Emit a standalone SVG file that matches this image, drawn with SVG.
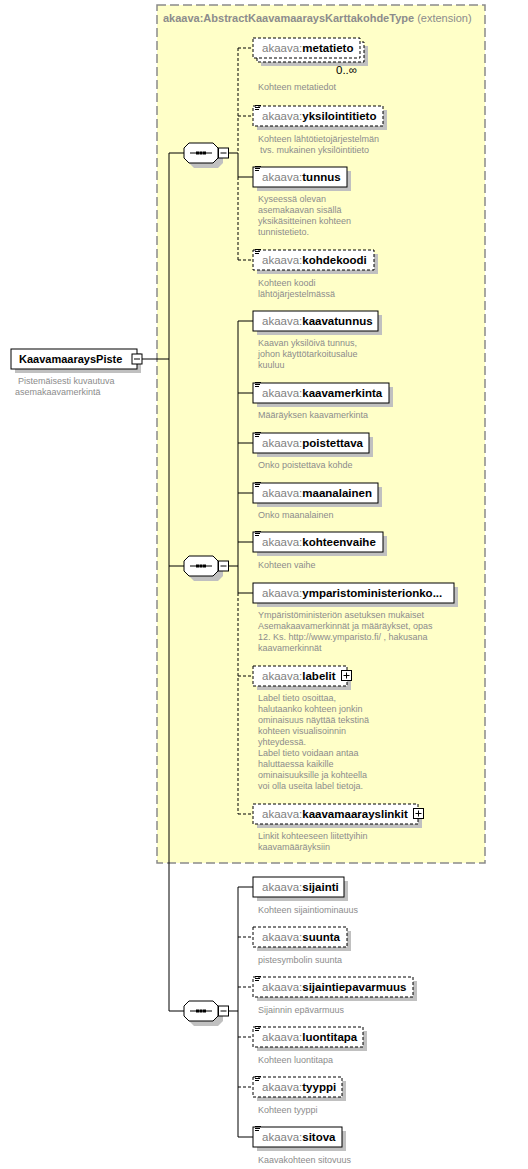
<svg xmlns="http://www.w3.org/2000/svg" width="528" height="1169" viewBox="0 0 528 1169">
<style>
.bg{fill:#fff}
.ext{fill:#FFFFC8;stroke:#8a8a8a;stroke-width:1.5;stroke-dasharray:9,4}
.sh{fill:#c0c0c0}
.box{fill:#fff;stroke:#000;stroke-width:1}
.opt{fill:#fff;stroke:#000;stroke-width:1;stroke-dasharray:3,2}
.ln{stroke:#000;stroke-width:1;fill:none}
.dl{stroke:#000;stroke-width:1;fill:none;stroke-dasharray:3,2}
.lbl{font-family:"Liberation Sans",Arial,sans-serif;font-size:11.5px}
.root{font-family:"Liberation Sans",Arial,sans-serif;font-size:11px;font-weight:bold;fill:#000}
.ns{fill:#808080}
.nm{fill:#000;font-weight:bold}
.cap{font-family:"Liberation Sans",Arial,sans-serif;font-size:9px;fill:#8c8c8c}
.ttl{font-family:"Liberation Sans",Arial,sans-serif;font-size:11px;fill:#8c8c8c}
.ic{stroke:#000;stroke-width:1}
</style>
<defs>
<g id="doc"><path class="ic" d="M2,1.5H8M2,3.5H7M2,5.5H6"/></g>
<g id="seq">
<polygon class="sh" points="10,5 34,5 39,10 39,20 34,25 10,25 5,20 5,10"/>
<polygon fill="#fff" stroke="#000" points="5,0 29,0 34,5 34,15 29,20 5,20 0,15 0,5"/>
<path class="ln" d="M6,10H28"/>
<rect x="12" y="8.5" width="3" height="3" fill="#000"/>
<rect x="15.5" y="8.5" width="3" height="3" fill="#000"/>
<rect x="19" y="8.5" width="3" height="3" fill="#000"/>
<rect x="34.5" y="5" width="10" height="10" fill="#fff" stroke="#000"/>
<path class="ln" d="M36.5,10H42.5"/>
</g>
<g id="plus">
<rect x="0.5" y="0.5" width="10" height="10" fill="#fff" stroke="#000"/>
<path class="ln" d="M2.5,5.5H8.5M5.5,2.5V8.5"/>
</g>
</defs>
<rect class="bg" x="0" y="0" width="528" height="1169"/>

<g id="extension">
<rect class="ext" x="157" y="5" width="328" height="858"/>
<text class="ttl" x="163" y="22"><tspan font-weight="bold">akaava:AbstractKaavamaaraysKarttakohdeType</tspan> (extension)</text>
</g>

<g id="connectors">
<path class="ln" d="M142,359H169M169,153V1011M169,153H184M169,566H184M169,1011H184"/>
<path class="ln" d="M229,153H238M229,566H238M229,1011H238"/>
<path class="dl" d="M238,48V153M238,177V260M238,48H253M238,116H253M238,260H253"/>
<path class="ln" d="M238,153V177M238,177H253"/>
<path class="ln" d="M238,321V593M238,321H253M238,393H253M238,443H253M238,493H253M238,542H253M238,593H253"/>
<path class="dl" d="M238,593V814M238,676H253M238,814H253"/>
<path class="ln" d="M238,887V1137M238,887H253M238,1137H253"/>
<path class="dl" d="M238,937H253M238,987H253M238,1037H253M238,1087H253"/>
</g>

<g id="KaavamaaraysPiste">
<rect class="sh" x="15" y="353" width="126" height="20"/>
<rect class="box" x="11" y="349" width="126" height="20"/>
<text class="root" x="19" y="363">KaavamaaraysPiste</text>
<rect x="132" y="354" width="10" height="10" fill="#fff" stroke="#000"/>
<path class="ln" d="M134,359H140"/>
<text class="cap" x="18" y="384">Pistemäisesti kuvautuva</text>
<text class="cap" x="15" y="395">asemakaavamerkintä</text>
</g>

<g id="seq1"><use href="#seq" x="184" y="143"/></g>
<g id="seq2"><use href="#seq" x="184" y="556"/></g>
<g id="seq3"><use href="#seq" x="184" y="1001"/></g>

<g id="metatieto">
<rect class="sh" x="261" y="46" width="107" height="20"/>
<rect class="opt" x="257" y="42" width="107" height="20"/>
<rect class="opt" x="253" y="38" width="107" height="20"/>
<text class="lbl" x="262" y="52"><tspan class="ns">akaava:</tspan><tspan class="nm">metatieto</tspan></text>
<text class="lbl" x="336" y="74" font-size="10">0..∞</text>
<text class="cap" x="258" y="90">Kohteen metatiedot</text>
</g>

<g id="yksilointitieto">
<rect class="sh" x="257" y="110" width="130" height="20"/>
<rect class="opt" x="253" y="106" width="130" height="20"/>
<use href="#doc" x="253" y="104"/>
<text class="lbl" x="262" y="120"><tspan class="ns">akaava:</tspan><tspan class="nm">yksilointitieto</tspan></text>
<text class="cap" x="258" y="142">Kohteen lähtötietojärjestelmän</text>
<text class="cap" x="260" y="153">tvs. mukainen yksilöintitieto</text>
</g>

<g id="tunnus">
<rect class="sh" x="257" y="171" width="94" height="20"/>
<rect class="box" x="253" y="167" width="94" height="20"/>
<use href="#doc" x="253" y="165"/>
<text class="lbl" x="262" y="181"><tspan class="ns">akaava:</tspan><tspan class="nm">tunnus</tspan></text>
<text class="cap" x="258" y="202">Kyseessä olevan</text>
<text class="cap" x="258" y="213">asemakaavan sisällä</text>
<text class="cap" x="258" y="224">yksikäsitteinen kohteen</text>
<text class="cap" x="258" y="235">tunnistetieto.</text>
</g>

<g id="kohdekoodi">
<rect class="sh" x="257" y="254" width="121" height="20"/>
<rect class="opt" x="253" y="250" width="121" height="20"/>
<use href="#doc" x="253" y="248"/>
<text class="lbl" x="262" y="264"><tspan class="ns">akaava:</tspan><tspan class="nm">kohdekoodi</tspan></text>
<text class="cap" x="258" y="286">Kohteen koodi</text>
<text class="cap" x="258" y="297">lähtöjärjestelmässä</text>
</g>

<g id="kaavatunnus">
<rect class="sh" x="257" y="315" width="125" height="20"/>
<rect class="box" x="253" y="311" width="125" height="20"/>
<text class="lbl" x="262" y="325"><tspan class="ns">akaava:</tspan><tspan class="nm">kaavatunnus</tspan></text>
<text class="cap" x="258" y="346">Kaavan yksilöivä tunnus,</text>
<text class="cap" x="258" y="357">johon käyttötarkoitusalue</text>
<text class="cap" x="258" y="368">kuuluu</text>
</g>

<g id="kaavamerkinta">
<rect class="sh" x="257" y="387" width="136" height="20"/>
<rect class="box" x="253" y="383" width="136" height="20"/>
<use href="#doc" x="253" y="381"/>
<text class="lbl" x="262" y="397"><tspan class="ns">akaava:</tspan><tspan class="nm">kaavamerkinta</tspan></text>
<text class="cap" x="258" y="418">Määräyksen kaavamerkinta</text>
</g>

<g id="poistettava">
<rect class="sh" x="257" y="437" width="116" height="20"/>
<rect class="box" x="253" y="433" width="116" height="20"/>
<use href="#doc" x="253" y="431"/>
<text class="lbl" x="262" y="447"><tspan class="ns">akaava:</tspan><tspan class="nm">poistettava</tspan></text>
<text class="cap" x="258" y="468">Onko poistettava kohde</text>
</g>

<g id="maanalainen">
<rect class="sh" x="257" y="487" width="125" height="20"/>
<rect class="box" x="253" y="483" width="125" height="20"/>
<use href="#doc" x="253" y="481"/>
<text class="lbl" x="262" y="497"><tspan class="ns">akaava:</tspan><tspan class="nm">maanalainen</tspan></text>
<text class="cap" x="258" y="518">Onko maanalainen</text>
</g>

<g id="kohteenvaihe">
<rect class="sh" x="257" y="536" width="130" height="20"/>
<rect class="box" x="253" y="532" width="130" height="20"/>
<use href="#doc" x="253" y="530"/>
<text class="lbl" x="262" y="546"><tspan class="ns">akaava:</tspan><tspan class="nm">kohteenvaihe</tspan></text>
<text class="cap" x="258" y="568">Kohteen vaihe</text>
</g>

<g id="ymparistoministerionko">
<rect class="sh" x="257" y="587" width="201" height="20"/>
<rect class="box" x="253" y="583" width="201" height="20"/>
<text class="lbl" x="262" y="597"><tspan class="ns">akaava:</tspan><tspan class="nm">ymparistoministerionko...</tspan></text>
<text class="cap" x="258" y="618">Ympäristöministeriön asetuksen mukaiset</text>
<text class="cap" x="258" y="629">Asemakaavamerkinnät ja määräykset, opas</text>
<text class="cap" x="258" y="640">12. Ks. http://www.ymparisto.fi/ , hakusana</text>
<text class="cap" x="258" y="651">kaavamerkinnät</text>
</g>

<g id="labelit">
<rect class="sh" x="257" y="670" width="94" height="20"/>
<rect class="opt" x="253" y="666" width="94" height="20"/>
<text class="lbl" x="262" y="680"><tspan class="ns">akaava:</tspan><tspan class="nm">labelit</tspan></text>
<use href="#plus" x="341" y="670"/>
<text class="cap" x="258" y="701">Label tieto osoittaa,</text>
<text class="cap" x="258" y="712">halutaanko kohteen jonkin</text>
<text class="cap" x="258" y="723">ominaisuus näyttää tekstinä</text>
<text class="cap" x="258" y="734">kohteen visualisoinnin</text>
<text class="cap" x="258" y="745">yhteydessä.</text>
<text class="cap" x="258" y="756">Label tieto voidaan antaa</text>
<text class="cap" x="258" y="767">haluttaessa kaikille</text>
<text class="cap" x="258" y="778">ominaisuuksille ja kohteella</text>
<text class="cap" x="258" y="789">voi olla useita label tietoja.</text>
</g>

<g id="kaavamaarayslinkit">
<rect class="sh" x="257" y="808" width="165" height="20"/>
<rect class="opt" x="253" y="804" width="165" height="20"/>
<text class="lbl" x="262" y="818"><tspan class="ns">akaava:</tspan><tspan class="nm">kaavamaarayslinkit</tspan></text>
<use href="#plus" x="413" y="808"/>
<text class="cap" x="258" y="839">Linkit kohteeseen liitettyihin</text>
<text class="cap" x="258" y="850">kaavamääräyksiin</text>
</g>

<g id="sijainti">
<rect class="sh" x="257" y="881" width="91" height="20"/>
<rect class="box" x="253" y="877" width="91" height="20"/>
<text class="lbl" x="262" y="891"><tspan class="ns">akaava:</tspan><tspan class="nm">sijainti</tspan></text>
<text class="cap" x="258" y="913">Kohteen sijaintiominauus</text>
</g>

<g id="suunta">
<rect class="sh" x="257" y="931" width="94" height="20"/>
<rect class="opt" x="253" y="927" width="94" height="20"/>
<text class="lbl" x="262" y="941"><tspan class="ns">akaava:</tspan><tspan class="nm">suunta</tspan></text>
<text class="cap" x="258" y="963">pistesymbolin suunta</text>
</g>

<g id="sijaintiepavarmuus">
<rect class="sh" x="257" y="981" width="160" height="20"/>
<rect class="opt" x="253" y="977" width="160" height="20"/>
<use href="#doc" x="253" y="975"/>
<text class="lbl" x="262" y="991"><tspan class="ns">akaava:</tspan><tspan class="nm">sijaintiepavarmuus</tspan></text>
<text class="cap" x="258" y="1013">Sijainnin epävarmuus</text>
</g>

<g id="luontitapa">
<rect class="sh" x="257" y="1031" width="110" height="20"/>
<rect class="opt" x="253" y="1027" width="110" height="20"/>
<use href="#doc" x="253" y="1025"/>
<text class="lbl" x="262" y="1041"><tspan class="ns">akaava:</tspan><tspan class="nm">luontitapa</tspan></text>
<text class="cap" x="258" y="1063">Kohteen luontitapa</text>
</g>

<g id="tyyppi">
<rect class="sh" x="257" y="1081" width="89" height="20"/>
<rect class="opt" x="253" y="1077" width="89" height="20"/>
<use href="#doc" x="253" y="1075"/>
<text class="lbl" x="262" y="1091"><tspan class="ns">akaava:</tspan><tspan class="nm">tyyppi</tspan></text>
<text class="cap" x="258" y="1113">Kohteen tyyppi</text>
</g>

<g id="sitova">
<rect class="sh" x="257" y="1131" width="89" height="20"/>
<rect class="box" x="253" y="1127" width="89" height="20"/>
<use href="#doc" x="253" y="1125"/>
<text class="lbl" x="262" y="1141"><tspan class="ns">akaava:</tspan><tspan class="nm">sitova</tspan></text>
<text class="cap" x="258" y="1163">Kaavakohteen sitovuus</text>
</g>
</svg>
